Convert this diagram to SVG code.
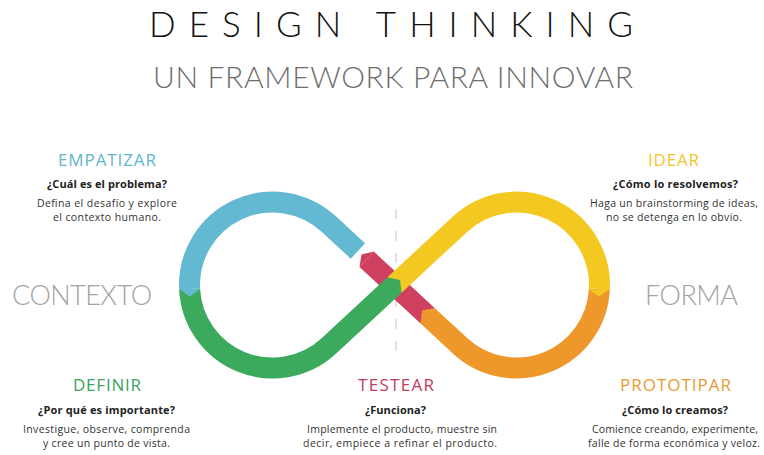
<svg xmlns="http://www.w3.org/2000/svg" width="764" height="455" viewBox="0 0 764 455">
<style>
.title{font-family:Lato,"Open Sans",sans-serif;font-weight:300;fill:#111;font-size:35px}
.sub{font-family:Lato,"Open Sans",sans-serif;font-weight:300;fill:#6e6e6e;font-size:30px}
.side{font-family:Lato,"Open Sans",sans-serif;font-weight:300;fill:#a3a3a3;font-size:27px;text-anchor:middle}
.h{font-family:"Open Sans","Noto Sans",sans-serif;font-weight:400;font-size:17px;text-anchor:middle}
.q{font-family:"Open Sans","Noto Sans",sans-serif;font-weight:700;font-size:11px;fill:#222;text-anchor:middle}
.b{font-family:"Open Sans","Noto Sans",sans-serif;font-weight:400;font-size:10.5px;fill:#333;text-anchor:middle}
.seg{fill:none;stroke-width:21;stroke-linecap:butt;stroke-linejoin:round}
</style>
<rect width="764" height="455" fill="#ffffff"/>
<g id="title">
<text class="title" x="149" y="37" textLength="484" lengthAdjust="spacing">DESIGN THINKING</text>
<text class="sub" x="153" y="88" textLength="480" lengthAdjust="spacing">UN FRAMEWORK PARA INNOVAR</text>
</g>
<g id="contexto"><text class="side" x="82" y="305" textLength="140" lengthAdjust="spacing">CONTEXTO</text></g>
<g id="forma"><text class="side" x="691.5" y="305" textLength="93" lengthAdjust="spacing">FORMA</text></g>
<line x1="396" y1="209" x2="396" y2="362" stroke="#cfcfcf" stroke-width="1.2" stroke-dasharray="10 12"/>
<g id="connectors">
<path class="seg" stroke="#cf3f5f" d="M427.5 315.6 L366.6 259.2"/>
<polygon fill="#cf3f5f" points="373.8,251.5 359.5,266.9 361.5,254.4"/>
<path class="seg" stroke="#ee972b" d="M599.4 289 A83 83 0 0 1 460 345.8 L427.5 315.6"/>
<polygon fill="#ee972b" points="434.6,307.9 420.4,323.3 422,310.5"/>
<path class="seg" stroke="#f3c921" d="M394.5 285 L460 224.2 A83 83 0 0 1 599.4 289"/>
<polygon fill="#f3c921" points="588.9,289.5 609.9,288.5 599.1,296.5"/>
<path class="seg" stroke="#3caa5c" d="M189.6 289 A83 83 0 0 0 329 345.8 L394.5 285"/>
<polygon fill="#3caa5c" points="401.6,292.7 387.4,277.3 400,279.9"/>
<path class="seg" stroke="#63b8d2" d="M357.9 251 L329 224.2 A83 83 0 0 0 189.6 289"/>
<polygon fill="#63b8d2" points="179.1,289 200.1,289 189.8,296.5"/>
</g>
<g id="empatizar">
<text class="h" fill="#62b5cc" x="107" y="166" textLength="98" lengthAdjust="spacing">EMPATIZAR</text>
<text class="q" x="107" y="188" textLength="120" lengthAdjust="spacing">¿Cuál es el problema?</text>
<text class="b" x="107" y="207" textLength="140" lengthAdjust="spacing">Defina el desafío y explore</text>
<text class="b" x="107" y="221" textLength="108" lengthAdjust="spacing">el contexto humano.</text>
</g>
<g id="idear">
<text class="h" fill="#f2c52c" x="673.5" y="166" textLength="51" lengthAdjust="spacing">IDEAR</text>
<text class="q" x="675.5" y="188" textLength="125" lengthAdjust="spacing">¿Cómo lo resolvemos?</text>
<text class="b" x="674" y="207" textLength="168" lengthAdjust="spacing">Haga un brainstorming de ideas,</text>
<text class="b" x="674" y="221" textLength="136" lengthAdjust="spacing">no se detenga en lo obvio.</text>
</g>
<g id="definir">
<text class="h" fill="#3ba35f" x="107" y="391" textLength="68" lengthAdjust="spacing">DEFINIR</text>
<text class="q" x="106.5" y="414" textLength="137" lengthAdjust="spacing">¿Por qué es importante?</text>
<text class="b" x="106.5" y="433" textLength="167" lengthAdjust="spacing">Investigue, observe, comprenda</text>
<text class="b" x="106.5" y="447" textLength="127" lengthAdjust="spacing">y cree un punto de vista.</text>
</g>
<g id="testear">
<text class="h" fill="#c23a5c" x="396" y="391" textLength="76" lengthAdjust="spacing">TESTEAR</text>
<text class="q" x="395.5" y="414" textLength="61" lengthAdjust="spacing">¿Funciona?</text>
<text class="b" x="402" y="433" textLength="190" lengthAdjust="spacing">Implemente el producto, muestre sin</text>
<text class="b" x="400" y="447" textLength="194" lengthAdjust="spacing">decir, empiece a refinar el producto.</text>
</g>
<g id="prototipar">
<text class="h" fill="#e99a32" x="675.5" y="391" textLength="111" lengthAdjust="spacing">PROTOTIPAR</text>
<text class="q" x="675" y="414" textLength="106" lengthAdjust="spacing">¿Cómo lo creamos?</text>
<text class="b" x="675" y="433" textLength="166" lengthAdjust="spacing">Comience creando, experimente,</text>
<text class="b" x="674" y="447" textLength="172" lengthAdjust="spacing">falle de forma económica y veloz.</text>
</g>
</svg>
